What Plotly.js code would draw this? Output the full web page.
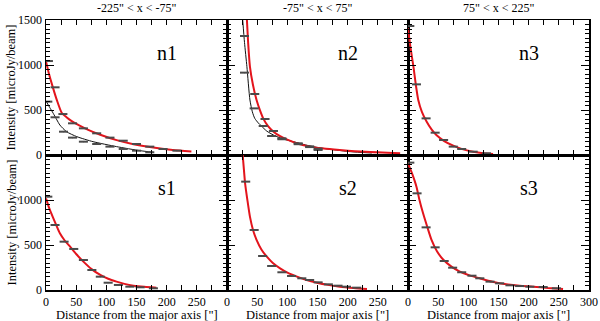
<!DOCTYPE html>
<html>
<head>
<meta charset="utf-8">
<script src="https://cdn.plot.ly/plotly-3.0.1.min.js"></script>
<style>
  html, body { margin: 0; padding: 0; background: #fff; }
  #plot { width: 600px; height: 321px; }
</style>
</head>
<body>
<div id="plot"></div>
<script>
var n1RedX = [4, 15, 28, 44, 62, 84, 106, 128, 150, 172, 194, 217];
var n1RedY = [1044, 752, 455, 352, 296, 241, 193, 159, 122, 93, 67, 48];
var n1BlkX = [3, 15, 29, 44, 62, 84, 106, 128, 150, 172];
var n1BlkY = [593, 419, 259, 193, 148, 122, 93, 67, 48, 30];
var n1RedFitX = [0, 5, 11, 18, 26, 34, 42, 55, 70, 90, 117, 145, 175, 210, 241];
var n1RedFitY = [1040, 900, 760, 610, 470, 420, 380, 330, 280, 225, 165, 120, 85, 55, 38];
var n1BlkFitX = [0, 6, 12, 18, 23, 34, 51, 78, 117, 156, 178];
var n1BlkFitY = [600, 530, 463, 390, 333, 259, 204, 148, 93, 48, 30];

var n2RedX = [29, 46, 63, 77, 91, 118, 137, 151];
var n2RedY = [1322, 678, 400, 267, 185, 130, 96, 70];
var n2BlkX = [29, 45, 60, 74, 91, 118, 137, 151];
var n2BlkY = [915, 518, 322, 211, 175, 120, 88, 56];
var n2RedFitX = [33, 35, 38, 43, 49, 55, 60, 68, 77, 88, 99, 118, 138, 160, 187, 230, 287];
var n2RedFitY = [1500, 1250, 981, 780, 611, 490, 407, 320, 259, 210, 174, 125, 93, 72, 56, 35, 19];
var n2BlkFitX = [26, 29, 33, 38, 42, 46, 52, 57, 66, 77, 92, 110, 130, 149, 175, 204, 240];
var n2BlkFitY = [1500, 1250, 981, 611, 480, 407, 355, 322, 265, 222, 180, 148, 112, 85, 60, 37, 22];

var n3RedX = [3, 14, 30, 45, 59, 75, 89, 108, 130];
var n3RedY = [1433, 785, 407, 248, 167, 93, 67, 37, 19];
var n3RedFitX = [0, 4, 9, 13, 17, 23, 31, 39, 47, 60, 75, 90, 108, 125, 141];
var n3RedFitY = [1407, 1200, 981, 780, 611, 480, 370, 285, 222, 155, 104, 65, 37, 20, 11];

var s1RedX = [3, 15, 30, 46, 62, 76, 90, 103, 120, 139, 156, 178];
var s1RedY = [1037, 722, 537, 456, 333, 222, 148, 81, 56, 37, 30, 19];
var s1RedFitX = [0, 5, 11, 17, 23, 31, 40, 50, 62, 75, 90, 103, 117, 130, 145, 163, 183];
var s1RedFitY = [1018, 915, 815, 720, 630, 550, 481, 400, 315, 235, 167, 125, 93, 68, 48, 35, 26];

var s2RedX = [31, 45, 59, 74, 91, 107, 124, 137, 151, 168, 184, 198, 215];
var s2RedY = [1204, 667, 378, 267, 197, 156, 130, 111, 85, 63, 48, 37, 26];
var s2RedFitX = [26, 28, 30, 34, 38, 43, 49, 57, 66, 76, 88, 101, 116, 132, 149, 167, 187, 210, 232];
var s2RedFitY = [1500, 1340, 1185, 990, 815, 670, 556, 450, 370, 300, 241, 190, 148, 110, 81, 57, 37, 22, 11];

var s3RedX = [3, 15, 30, 45, 60, 74, 89, 106, 119, 136, 152, 169, 185, 202, 224, 246];
var s3RedY = [1415, 1074, 696, 474, 322, 248, 197, 159, 130, 93, 74, 52, 44, 37, 33, 19];
var s3RedFitX = [0, 7, 14, 19, 25, 32, 39, 48, 59, 72, 86, 102, 119, 140, 163, 185, 207, 232, 257];
var s3RedFitY = [1407, 1290, 1148, 1000, 852, 700, 556, 430, 333, 260, 204, 163, 130, 92, 63, 47, 37, 22, 11];

var panelNames = ['n1', 'n2', 'n3', 's1', 's2', 's3'];
var colTitles = ['-225" < x < -75"', '-75" < x < 75"', '75" < x < 225"'];
var yTickTop = [0, 500, 1000, 1500];
var yTickBottom = [0, 500, 1000];
var xTickLeft = [0, 50, 100, 150, 200, 250];
var xTickRight = [0, 50, 100, 150, 200, 250, 300];

var RED = '#e3141c';
var BAR = '#4a4a4a';

function ax(k) { return k == 1 ? '' : String(k); }

function bars(x, y, k) {
  return {
    type: 'scatter', mode: 'markers', x: x, y: y,
    xaxis: 'x' + ax(k), yaxis: 'y' + ax(k),
    marker: { size: 1, color: BAR },
    error_x: { type: 'constant', value: 7.5, width: 0, thickness: 2, color: BAR },
    hoverinfo: 'skip', showlegend: false
  };
}
function fit(x, y, k, color, w) {
  return {
    type: 'scatter', mode: 'lines', x: x, y: y,
    xaxis: 'x' + ax(k), yaxis: 'y' + ax(k),
    line: { color: color, width: w, shape: 'spline', smoothing: 0.6 },
    hoverinfo: 'skip', showlegend: false
  };
}

var data = [
  fit(n1BlkFitX, n1BlkFitY, 1, '#111', 1),
  fit(n1RedFitX, n1RedFitY, 1, RED, 2),
  bars(n1BlkX, n1BlkY, 1),
  bars(n1RedX, n1RedY, 1),
  fit(n2BlkFitX, n2BlkFitY, 2, '#111', 1),
  fit(n2RedFitX, n2RedFitY, 2, RED, 2),
  bars(n2BlkX, n2BlkY, 2),
  bars(n2RedX, n2RedY, 2),
  fit(n3RedFitX, n3RedFitY, 3, RED, 2),
  bars(n3RedX, n3RedY, 3),
  fit(s1RedFitX, s1RedFitY, 4, RED, 2),
  bars(s1RedX, s1RedY, 4),
  fit(s2RedFitX, s2RedFitY, 5, RED, 2),
  bars(s2RedX, s2RedY, 5),
  fit(s3RedFitX, s3RedFitY, 6, RED, 2),
  bars(s3RedX, s3RedY, 6)
];

var W = 600, H = 321;
var xEdges = [46, 227, 408, 589];
var rowTop = [20, 155], rowBot = [155, 290];
var SERIF = 'Liberation Serif';
var tickFont = { family: SERIF, size: 12, color: '#000' };

var layout = {
  width: W, height: H,
  margin: { l: 0, r: 0, t: 0, b: 0 },
  paper_bgcolor: '#fff', plot_bgcolor: '#fff',
  font: tickFont,
  showlegend: false,
  annotations: []
};

for (var k = 1; k <= 6; k++) {
  var col = (k - 1) % 3, isTop = k <= 3;
  var yr = isTop ? rowTop : rowBot;
  layout['xaxis' + ax(k)] = {
    domain: [xEdges[col] / W, xEdges[col + 1] / W],
    range: [0, 300], anchor: 'y' + ax(k),
    showgrid: false, zeroline: false,
    showline: true, linecolor: '#000', linewidth: 1.5, mirror: 'ticks',
    ticks: 'inside', ticklen: 5, tickwidth: 1, tickcolor: '#000',
    tickmode: 'array',
    tickvals: col == 2 ? xTickRight : xTickLeft,
    showticklabels: !isTop,
    minor: { dtick: 25, ticks: 'inside', ticklen: 5, tickcolor: '#000' },
    tickfont: tickFont
  };
  layout['yaxis' + ax(k)] = {
    domain: [1 - yr[1] / H, 1 - yr[0] / H],
    range: [0, 1500], anchor: 'x' + ax(k),
    showgrid: false, zeroline: false,
    showline: true, linecolor: '#000', linewidth: 1.5, mirror: 'ticks',
    ticks: 'inside', ticklen: 8, tickwidth: 1, tickcolor: '#000',
    tickmode: 'array',
    tickvals: isTop ? yTickTop : yTickBottom,
    showticklabels: col == 0,
    minor: { dtick: 50, ticks: 'inside', ticklen: 4, tickcolor: '#000' },
    tickfont: tickFont
  };

  layout.annotations.push({
    text: panelNames[k - 1], xref: 'x' + ax(k), yref: 'y' + ax(k),
    x: 200, y: 1130, showarrow: false, xanchor: 'center', yanchor: 'middle',
    font: { family: SERIF, size: 20, color: '#000' }
  });
}

for (var c = 0; c < 3; c++) {
  var cx = (xEdges[c] + xEdges[c + 1]) / 2 / W;
  layout.annotations.push({
    text: colTitles[c], xref: 'paper', yref: 'paper',
    x: cx, y: 1 - 8 / H, showarrow: false, xanchor: 'center', yanchor: 'middle',
    font: { family: SERIF, size: 12, color: '#000' }
  });
  layout.annotations.push({
    text: c == 0 ? 'Distance from the major axis ["]' : 'Distance from major axis ["]',
    xref: 'paper', yref: 'paper',
    x: cx, y: 1 - 315 / H, showarrow: false, xanchor: 'center', yanchor: 'middle',
    font: { family: SERIF, size: 12.5, color: '#000' }
  });
}

[rowTop, rowBot].forEach(function (r) {
  layout.annotations.push({
    text: 'Intensity [microJy/beam]', xref: 'paper', yref: 'paper',
    x: 11 / W, y: 1 - (r[0] + r[1]) / 2 / H, textangle: -90, showarrow: false,
    xanchor: 'center', yanchor: 'middle',
    font: { family: SERIF, size: 12.5, color: '#000' }
  });
});

Plotly.newPlot('plot', data, layout, { staticPlot: true, displayModeBar: false });
</script>
</body>
</html>
